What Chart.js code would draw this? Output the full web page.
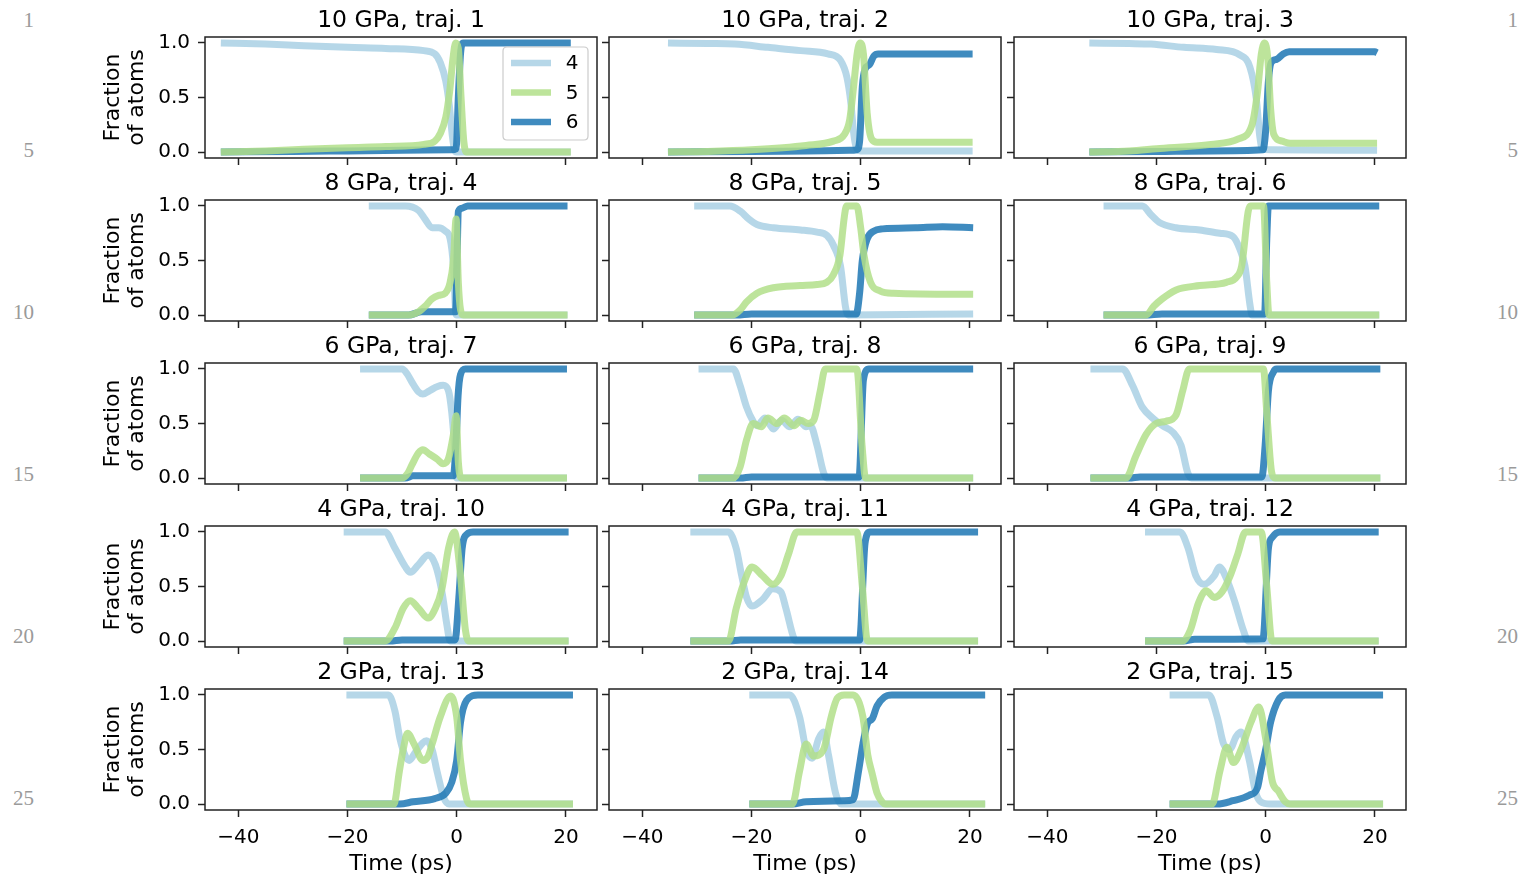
<!DOCTYPE html>
<html><head><meta charset="utf-8">
<script src="https://cdn.jsdelivr.net/npm/chart.js@4.4.0/dist/chart.umd.min.js"></script>
<style>
html,body{margin:0;padding:0;background:#fff;overflow:hidden;width:1520px;height:875px}
#wrap{position:relative;width:1520px;height:875px;overflow:hidden}
canvas{position:absolute}
.ln{position:absolute;font-family:'Liberation Serif',serif;font-size:21px;color:#9a9a9a;line-height:21px;height:21px}
</style></head>
<body><div id="wrap"></div>
<script>
// ---------- data ----------
const titles = ['10 GPa, traj. 1','10 GPa, traj. 2','10 GPa, traj. 3','8 GPa, traj. 4','8 GPa, traj. 5','8 GPa, traj. 6','6 GPa, traj. 7','6 GPa, traj. 8','6 GPa, traj. 9','4 GPa, traj. 10','4 GPa, traj. 11','4 GPa, traj. 12','2 GPa, traj. 13','2 GPa, traj. 14','2 GPa, traj. 15'];
const seriesLabels = ['4','5','6'];
const xTicks = [-40,-20,0,20];
const yTicks = [0,0.5,1.0];
const lineNumbers = ['1','5','10','15','20','25'];

const traj1_4 = [[-43.2,1.0],[-35,0.99],[-28,0.975],[-20,0.96],[-13,0.95],[-6,0.93],[-4,0.9],[-3,0.82],[-2,0.65],[-1.4,0.45],[-0.8,0.15],[-0.4,0.02],[0,0],[20.9,0]];
const traj1_5 = [[-43.2,0],[-35,0.01],[-28,0.025],[-20,0.04],[-13,0.05],[-6,0.07],[-4,0.1],[-3,0.17],[-2,0.32],[-1.3,0.55],[-0.7,0.85],[-0.2,1.0],[0.3,0.95],[0.8,0.5],[1.3,0.1],[1.8,0],[20.9,0]];
const traj1_6 = [[-43.2,0],[-30,0.005],[-20,0.01],[-10,0.015],[-1,0.02],[-0.1,0.03],[0.3,0.5],[0.7,0.9],[1.2,1.0],[20.9,1.0]];

const traj2_4 = [[-35.3,1.0],[-28,0.995],[-23,0.99],[-17,0.96],[-11,0.93],[-6,0.9],[-3.7,0.84],[-2.5,0.68],[-1.8,0.45],[-1.3,0.18],[-0.8,0.04],[0,0.01],[20.5,0.01]];
const traj2_5 = [[-35.3,0],[-28,0.005],[-20,0.02],[-10,0.06],[-5,0.1],[-3,0.16],[-2,0.3],[-1.3,0.6],[-0.6,0.92],[-0.1,1.0],[0.5,0.9],[1.2,0.35],[2,0.12],[3,0.09],[20.5,0.09]];
const traj2_6 = [[-35.3,0],[-20,0.005],[-10,0.01],[-2,0.015],[-0.7,0.02],[-0.2,0.1],[0.3,0.6],[0.8,0.76],[1.6,0.8],[2.4,0.88],[3.2,0.9],[20.5,0.9]];

const traj3_4 = [[-32.3,1.0],[-25,0.995],[-21,0.99],[-15,0.96],[-9,0.94],[-4.7,0.89],[-2.9,0.78],[-1.7,0.48],[-1.1,0.15],[-0.6,0.03],[1,0.02],[20.4,0.015]];
const traj3_5 = [[-32.3,0],[-25,0.01],[-20,0.03],[-10,0.07],[-5,0.12],[-2.5,0.25],[-1.5,0.55],[-0.8,0.9],[-0.2,1.0],[0.4,0.85],[0.9,0.4],[1.5,0.16],[3,0.1],[4.5,0.08],[20.4,0.08]];
const traj3_6 = [[-32.3,0],[-20,0.005],[-10,0.01],[-0.5,0.02],[0,0.2],[0.5,0.65],[1,0.82],[2,0.85],[3.2,0.9],[4.3,0.92],[20,0.92],[20.4,0.91]];

const traj4_4 = [[-16.1,1.0],[-9.4,1.0],[-7,0.96],[-5.8,0.88],[-4.5,0.8],[-3.3,0.8],[-2.1,0.77],[-1.2,0.7],[-0.6,0.45],[-0.1,0.0],[20.3,0]];
const traj4_5 = [[-16.1,0],[-8.8,0],[-7,0.03],[-5.8,0.08],[-4.5,0.15],[-3.3,0.18],[-2.1,0.2],[-1.2,0.3],[-0.6,0.5],[-0.1,0.88],[0.3,0.3],[0.7,0.05],[1.2,0],[20.3,0]];
const traj4_6 = [[-16.1,0],[-8.8,0],[-6.4,0.03],[-0.2,0.03],[0.1,0.6],[0.3,0.95],[1,0.98],[2,1.0],[20.3,1.0]];

const traj5_4 = [[-30.5,1.0],[-24,1.0],[-22,0.95],[-20.5,0.88],[-19,0.83],[-16,0.8],[-11,0.78],[-8,0.76],[-6.2,0.73],[-5,0.64],[-3.7,0.45],[-2.8,0.08],[-2.3,0],[20.6,0.01]];
const traj5_5 = [[-30.5,0],[-23.5,0],[-22,0.05],[-20.9,0.12],[-19,0.2],[-16,0.25],[-11.1,0.27],[-8,0.28],[-6.2,0.3],[-5,0.37],[-3.8,0.55],[-3,0.9],[-2.6,1.0],[-0.7,1.0],[0,0.8],[0.6,0.55],[1.8,0.3],[3.6,0.22],[6,0.2],[20.6,0.19]];
const traj5_6 = [[-30.5,0],[-22.7,0],[-20,0.01],[-0.8,0.01],[-0.2,0.2],[0.3,0.5],[1.2,0.7],[2.4,0.77],[4,0.79],[10,0.8],[15,0.81],[20.6,0.8]];

const traj6_4 = [[-29.7,1.0],[-22.6,1.0],[-21,0.92],[-19.5,0.85],[-16.4,0.8],[-12.1,0.78],[-8.4,0.75],[-6,0.72],[-4.7,0.6],[-3.8,0.45],[-2.9,0.1],[-2.5,0],[20.8,0]];
const traj6_5 = [[-29.7,0],[-21.9,0],[-20.5,0.08],[-18.9,0.15],[-16.4,0.23],[-12.1,0.27],[-7.2,0.3],[-5.3,0.35],[-4.4,0.45],[-3.2,0.95],[-2.8,1.0],[-0.4,1.0],[0.2,0.3],[0.6,0],[20.8,0]];
const traj6_6 = [[-29.7,0],[-22,0],[-19,0.01],[-0.2,0.01],[0.2,0.7],[0.5,1.0],[20.8,1.0]];

const traj7_4 = [[-17.7,1.0],[-10,1.0],[-9,0.95],[-8.2,0.88],[-7,0.79],[-6.2,0.77],[-5,0.8],[-3.5,0.84],[-2.5,0.85],[-1.5,0.8],[-0.9,0.6],[-0.4,0.3],[0,0],[20.2,0]];
const traj7_5 = [[-17.7,0],[-10,0],[-9,0.04],[-8.2,0.12],[-7,0.23],[-6.2,0.26],[-5,0.22],[-3.5,0.17],[-2.5,0.13],[-1.5,0.18],[-0.6,0.4],[-0.1,0.57],[0.3,0.15],[0.8,0],[20.2,0]];
const traj7_6 = [[-17.7,0],[-9.4,0],[-8,0.02],[-0.6,0.02],[-0.1,0.35],[0.25,0.75],[0.7,0.95],[1.6,1.0],[20.2,1.0]];

const traj8_4 = [[-29.7,1.0],[-23.3,1.0],[-22.1,0.85],[-20.9,0.65],[-19.7,0.52],[-19,0.48],[-17.5,0.55],[-16,0.45],[-14.5,0.53],[-13,0.47],[-11.5,0.54],[-10,0.47],[-9.2,0.48],[-8,0.3],[-6.8,0.05],[-6.2,0],[20.6,0]];
const traj8_5 = [[-29.7,0],[-23.3,0],[-22.1,0.1],[-20.9,0.35],[-19.7,0.5],[-18.2,0.47],[-17,0.55],[-15.3,0.5],[-14,0.55],[-12.2,0.48],[-11,0.53],[-9.6,0.5],[-8.6,0.53],[-7.4,0.8],[-6.5,1.0],[-0.7,1.0],[0.25,0.3],[0.9,0],[20.6,0]];
const traj8_6 = [[-29.7,0],[-22,0],[-20,0.01],[-0.3,0.01],[0.5,0.9],[1.5,1.0],[20.6,1.0]];

const traj9_4 = [[-32.1,1.0],[-26.2,1.0],[-24.4,0.85],[-22.6,0.65],[-20.7,0.55],[-18.9,0.48],[-17,0.42],[-15.5,0.3],[-14.3,0.05],[-13.6,0],[21,0]];
const traj9_5 = [[-32.1,0],[-25.6,0],[-23.8,0.2],[-21.9,0.4],[-20.1,0.5],[-18.3,0.52],[-16.4,0.58],[-15.2,0.8],[-14,1.0],[-0.4,1.0],[0.2,0.6],[1.1,0.05],[1.7,0],[21,0]];
const traj9_6 = [[-32.1,0],[-25,0],[-23,0.01],[-0.7,0.01],[-0.1,0.3],[0.5,0.8],[1.4,0.97],[2,1.0],[21,1.0]];

const traj10_4 = [[-20.7,1.0],[-13.1,1.0],[-11.3,0.85],[-9.4,0.68],[-8.5,0.63],[-7,0.7],[-5.2,0.79],[-3.9,0.7],[-2.7,0.45],[-1.8,0.15],[-1.2,0],[20.5,0]];
const traj10_5 = [[-20.7,0],[-13.1,0],[-11.3,0.12],[-9.8,0.3],[-8.5,0.37],[-7,0.3],[-5.2,0.21],[-3.9,0.3],[-2.7,0.48],[-1.5,0.85],[-0.4,1.0],[0.7,0.6],[1.6,0.1],[2.2,0],[20.5,0]];
const traj10_6 = [[-20.7,0],[-12.2,0],[-10,0.01],[-0.3,0.01],[0.4,0.4],[1,0.85],[1.9,0.98],[3,1.0],[20.5,1.0]];

const traj11_4 = [[-31.2,1.0],[-24.2,1.0],[-22.8,0.85],[-21.8,0.6],[-20.9,0.4],[-19.9,0.32],[-18,0.38],[-16.1,0.48],[-14.6,0.45],[-13.7,0.3],[-12.2,0.02],[-11.8,0],[21.5,0]];
const traj11_5 = [[-31.2,0],[-24.2,0],[-22.8,0.3],[-20.9,0.6],[-19.9,0.68],[-18,0.6],[-16.1,0.52],[-14.6,0.6],[-13.2,0.8],[-11.7,1.0],[-0.7,1.0],[0.3,0.5],[1.25,0],[21.5,0]];
const traj11_6 = [[-31.2,0],[-24,0],[-22,0.01],[-0.2,0.01],[0.8,0.9],[1.7,1.0],[21.5,1.0]];

const traj12_4 = [[-22.1,1.0],[-15.7,1.0],[-14.2,0.85],[-12.8,0.6],[-11.3,0.52],[-9.4,0.6],[-8.5,0.68],[-7,0.55],[-5.6,0.35],[-4.1,0.1],[-3.2,0],[20.7,0]];
const traj12_5 = [[-22.1,0],[-15.2,0],[-13.8,0.1],[-12.3,0.35],[-10.9,0.46],[-9.4,0.4],[-8,0.45],[-6.5,0.6],[-5.1,0.8],[-3.7,1.0],[-0.8,1.0],[0.2,0.5],[1.15,0],[20.7,0]];
const traj12_6 = [[-22.1,0],[-15,0],[-13,0.015],[-0.5,0.02],[0.5,0.85],[1.2,0.95],[2.6,1.0],[20.7,1.0]];

const traj13_4 = [[-20.2,1.0],[-12.5,1.0],[-11.3,0.85],[-10.4,0.6],[-9.5,0.45],[-8.7,0.4],[-7.5,0.48],[-5.5,0.58],[-4.5,0.5],[-3.6,0.3],[-2.3,0.05],[-1.4,0],[21.3,0]];
const traj13_5 = [[-20.2,0],[-11.5,0],[-10.5,0.3],[-9.8,0.5],[-9,0.65],[-7.8,0.55],[-6.2,0.4],[-5.2,0.44],[-4.5,0.55],[-3,0.8],[-1.1,0.99],[0,0.8],[0.7,0.4],[1.8,0.05],[2.5,0],[21.3,0]];
const traj13_6 = [[-20.2,0],[-10.4,0],[-8,0.02],[-4,0.05],[-2,0.1],[-0.9,0.2],[0,0.4],[0.7,0.75],[1.8,0.95],[3.9,1.0],[21.3,1.0]];

const traj14_4 = [[-20.4,1.0],[-13,1.0],[-11.2,0.8],[-10,0.5],[-8.9,0.42],[-7.7,0.6],[-6.8,0.66],[-5.9,0.45],[-4.6,0.1],[-3.6,0],[22.8,0]];
const traj14_5 = [[-20.4,0],[-12.5,0],[-11.2,0.3],[-10,0.55],[-8.6,0.44],[-6.8,0.5],[-5.4,0.8],[-4.3,0.97],[-3,1.0],[-1.4,1.0],[0.4,0.8],[1.3,0.45],[2.1,0.28],[3,0.1],[3.9,0.02],[4.5,0],[22.8,0]];
const traj14_6 = [[-20.4,0],[-12.5,0],[-10,0.02],[-3,0.03],[-1.4,0.04],[-0.4,0.3],[0.4,0.55],[1.25,0.74],[2.1,0.78],[3,0.9],[4.3,0.98],[5.7,1.0],[22.8,1.0]];

const traj15_4 = [[-17.6,1.0],[-10.4,1.0],[-8.9,0.8],[-7.7,0.55],[-6.6,0.5],[-5.4,0.62],[-4.5,0.66],[-3,0.4],[-1.8,0.1],[-0.9,0.02],[0.9,0],[21.5,0]];
const traj15_5 = [[-17.6,0],[-9.8,0],[-8.4,0.3],[-7.1,0.52],[-5.9,0.38],[-4.5,0.5],[-2.7,0.75],[-1.25,0.89],[0,0.6],[1.25,0.2],[2.3,0.12],[3.6,0.02],[4.5,0],[21.5,0]];
const traj15_6 = [[-17.6,0],[-8.9,0],[-6,0.03],[-3,0.08],[-1.5,0.15],[-0.9,0.3],[0,0.5],[0.9,0.75],[2.3,0.95],[3.6,1.0],[21.5,1.0]];

const series4 = [traj1_4,traj2_4,traj3_4,traj4_4,traj5_4,traj6_4,traj7_4,traj8_4,traj9_4,traj10_4,traj11_4,traj12_4,traj13_4,traj14_4,traj15_4];
const series5 = [traj1_5,traj2_5,traj3_5,traj4_5,traj5_5,traj6_5,traj7_5,traj8_5,traj9_5,traj10_5,traj11_5,traj12_5,traj13_5,traj14_5,traj15_5];
const series6 = [traj1_6,traj2_6,traj3_6,traj4_6,traj5_6,traj6_6,traj7_6,traj8_6,traj9_6,traj10_6,traj11_6,traj12_6,traj13_6,traj14_6,traj15_6];

// ---------- style / layout ----------
const COLORS = ['rgba(166,206,227,0.82)','rgba(178,223,138,0.85)','rgba(31,120,180,0.86)'];
const DRAW_ORDER = [3,1,2]; // lower = drawn on top: green over dark blue over light blue
const FONT = "'DejaVu Sans', sans-serif";
const X_MIN = -46.1, X_MAX = 25.7, Y_MIN = -0.055, Y_MAX = 1.055;
const COL_LEFT = [205,609,1014], ROW_TOP = [37,200,363,526,689], FW = 392, FH = 121;

Chart.defaults.font.family = FONT;
Chart.defaults.color = '#000';

const wrap = document.getElementById('wrap');

// line numbers
const lnCenters = [20,150,312,474,636,798];
lineNumbers.forEach((t,i)=>{
  const a = document.createElement('div'); a.className='ln'; a.textContent=t;
  a.style.left='0px'; a.style.width='34px'; a.style.textAlign='right'; a.style.top=(lnCenters[i]-10)+'px';
  wrap.appendChild(a);
  const b = document.createElement('div'); b.className='ln'; b.textContent=t;
  b.style.left='1460px'; b.style.width='58px'; b.style.textAlign='right'; b.style.top=(lnCenters[i]-10)+'px';
  wrap.appendChild(b);
});

const framePlugin = {
  id:'frame',
  afterDatasetsDraw(chart){
    const {ctx, chartArea:a} = chart;
    ctx.save(); ctx.strokeStyle='#222'; ctx.lineWidth=1.5;
    ctx.strokeRect(a.left, a.top, a.right-a.left, a.bottom-a.top);
    ctx.restore();
  }
};

const legendPlugin = {
  id:'innerLegend',
  afterDraw(chart){
    const {ctx, chartArea:a} = chart;
    const ds = chart.data.datasets;
    const bw = 85, bh = 93, x0 = a.right-9-bw, y0 = a.top+10, r = 4;
    ctx.save();
    ctx.beginPath();
    ctx.moveTo(x0+r,y0); ctx.lineTo(x0+bw-r,y0); ctx.quadraticCurveTo(x0+bw,y0,x0+bw,y0+r);
    ctx.lineTo(x0+bw,y0+bh-r); ctx.quadraticCurveTo(x0+bw,y0+bh,x0+bw-r,y0+bh);
    ctx.lineTo(x0+r,y0+bh); ctx.quadraticCurveTo(x0,y0+bh,x0,y0+bh-r);
    ctx.lineTo(x0,y0+r); ctx.quadraticCurveTo(x0,y0,x0+r,y0); ctx.closePath();
    ctx.fillStyle='rgba(255,255,255,0.8)'; ctx.fill();
    ctx.strokeStyle='#cccccc'; ctx.lineWidth=1.2; ctx.stroke();
    ds.forEach((d,i)=>{
      const y = y0+16+i*29.5;
      ctx.strokeStyle=d.borderColor; ctx.lineWidth=6.5; ctx.lineCap='butt';
      ctx.beginPath(); ctx.moveTo(x0+8,y); ctx.lineTo(x0+48,y); ctx.stroke();
      ctx.fillStyle='#000'; ctx.font='20px '+FONT; ctx.textAlign='center'; ctx.textBaseline='middle';
      ctx.fillText(d.label, x0+69, y+1);
    });
    ctx.restore();
  }
};

const toXY = arr => arr.map(p => ({x:p[0], y:p[1]}));
const fmtX = v => v < 0 ? '\u2212' + Math.abs(v) : String(v);

function makeChart(idx){
  const r = Math.floor(idx/3), c = idx%3;
  const L = c===0 ? 110 : 12, T = 30, R = 4, B = r===4 ? 67 : 22;
  const w = L+FW+R, h = T+FH+B;
  const cv = document.createElement('canvas');
  cv.width = w; cv.height = h;
  cv.style.width = w+'px'; cv.style.height = h+'px';
  cv.style.left = (COL_LEFT[c]-L)+'px'; cv.style.top = (ROW_TOP[r]-T)+'px';
  wrap.appendChild(cv);
  const dataSets = [series4[idx], series5[idx], series6[idx]];
  new Chart(cv, {
    type:'line',
    data:{
      datasets: dataSets.map((s,k)=>({
        label: seriesLabels[k], data: toXY(s), borderColor: COLORS[k], backgroundColor: COLORS[k],
        order: DRAW_ORDER[k], fill:false
      }))
    },
    options:{
      responsive:false, animation:false, devicePixelRatio:1,
      layout:{padding:{left:0, top:0, bottom:0, right:R}},
      elements:{
        point:{radius:0, hoverRadius:0},
        line:{borderWidth:7, cubicInterpolationMode:'monotone', borderCapStyle:'butt', borderJoinStyle:'round'}
      },
      events:[],
      plugins:{
        legend:{display:false}, tooltip:{enabled:false},
        title:{display:true, fullSize:false, text:titles[idx], color:'#000',
          font:{family:FONT, size:23.5, weight:'normal', lineHeight:1.2}, padding:{top:0, bottom:1.8}}
      },
      scales:{
        x:{
          type:'linear', min:X_MIN, max:X_MAX,
          afterBuildTicks: s => { s.ticks = xTicks.map(v=>({value:v})); },
          afterFit: s => { s.height = B; },
          grid:{display:true, drawOnChartArea:false, drawTicks:true, tickLength:7, tickColor:'#222', tickWidth:1.5},
          border:{display:false},
          ticks:{display: r===4, padding:9, autoSkip:false, maxRotation:0, color:'#000',
            font:{family:FONT, size:20}, callback: v => fmtX(v)},
          title:{display: r===4, text:'Time (ps)', color:'#000', font:{family:FONT, size:22, lineHeight:1.2}, padding:{top:0,bottom:0}}
        },
        y:{
          type:'linear', min:Y_MIN, max:Y_MAX,
          afterBuildTicks: s => { s.ticks = yTicks.map(v=>({value:v})); },
          afterFit: s => { s.width = L; },
          grid:{display:true, drawOnChartArea:false, drawTicks:true, tickLength:7, tickColor:'#222', tickWidth:1.5},
          border:{display:false},
          ticks:{display: c===0, padding:8, color:'#000', font:{family:FONT, size:20}, callback: v => v.toFixed(1)},
          title:{display: c===0, text:['Fraction','of atoms'], color:'#000',
            font:{family:FONT, size:22, lineHeight:1.1}, padding:{top:6,bottom:0}}
        }
      }
    },
    plugins: idx===0 ? [framePlugin, legendPlugin] : [framePlugin]
  });
}

for (let i=0;i<15;i++) makeChart(i);
</script>
</body></html>
